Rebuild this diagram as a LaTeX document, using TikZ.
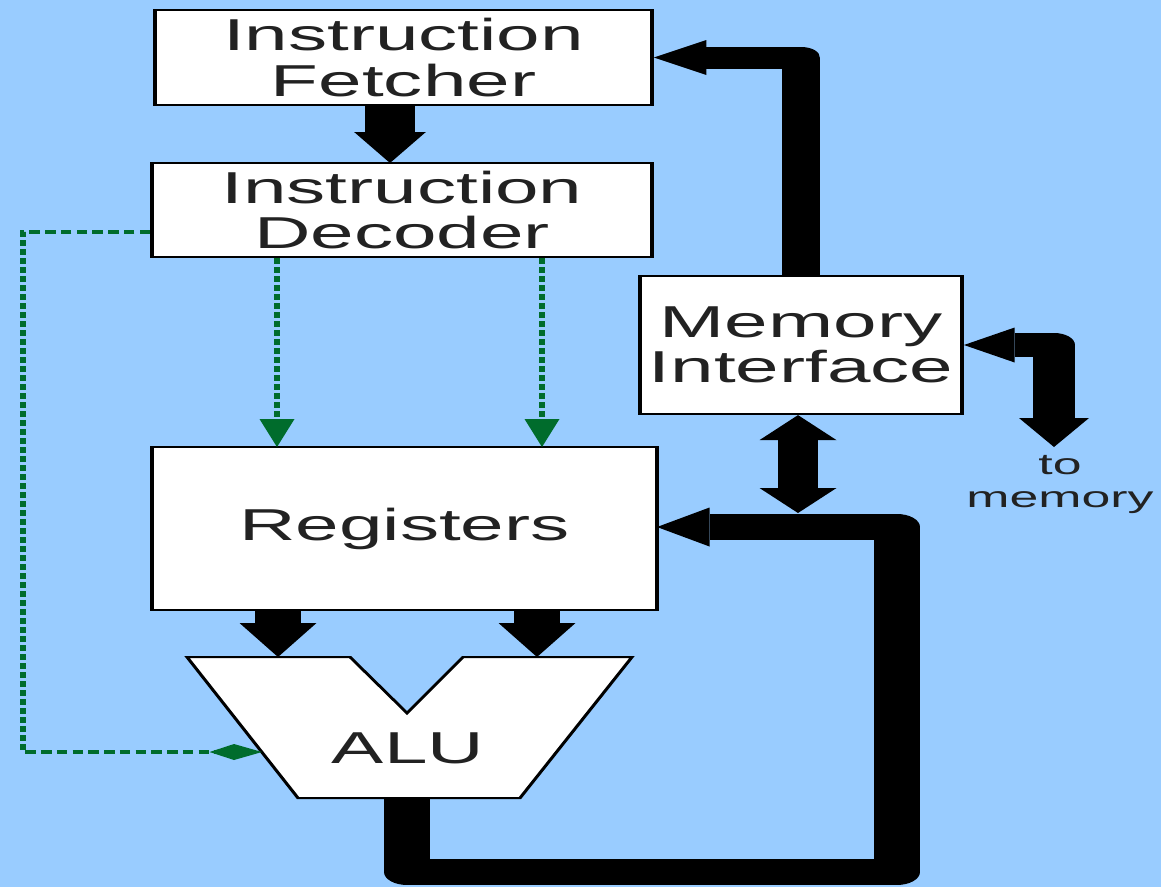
\documentclass[tikz,border=0pt]{standalone}
\usepackage{fontspec}
\newfontfamily\labelfont{Liberation Sans}
\usetikzlibrary{arrows.meta}
\definecolor{sky}{RGB}{153,204,255}
\definecolor{ink}{RGB}{34,34,34}
\definecolor{ctlgreen}{RGB}{0,108,44}
\tikzset{
  unit/.style={draw=black, line width=2.2pt, fill=white, inner sep=0pt,
    text=ink, align=center, font=\labelfont\fontsize{44.7}{45.5}\selectfont},
  boxw/.style={minimum width=#1pt/1.75},
  boxh/.style={minimum height=#1pt},
  bus/.style={draw=black, line width=#1pt, line join=round},
  ctl/.style={draw=ctlgreen, line width=3.6pt, dash pattern=on 6pt off 3pt},
  note/.style={text=ink, align=center, font=\labelfont\fontsize{29.6}{33}\selectfont},
}
\begin{document}
\begin{tikzpicture}[x=1pt, y=-1pt]
  \useasboundingbox (0,0) rectangle (1161,887);
  \fill[sky] (0,0) rectangle (1161,887);
  % everything is drawn on a horizontally widened canvas; positions are in final units
  \begin{scope}[transform canvas={xscale=1.75}, x=0.5714286pt]
    % functional units
    \node[unit, boxw=497, boxh=95]  (fetch) at (403.5,57.5) {Instruction\\Fetcher};
    \node[unit, boxw=500, boxh=94]  (dec)   at (402,210)   {Instruction\\Decoder};
    \node[unit, boxw=322, boxh=138] (mem)   at (801,345)   {Memory\\Interface};
    \node[unit, boxw=505, boxh=163] (regs)  at (404.5,528.5) {Registers};
    % ALU outline with its two input ports
    \draw[black, line width=2pt, fill=white, line join=miter]
      (187,657) -- (350,657) -- (407,713) -- (463,657) -- (632,657)
      -- (520,798) -- (298,798) -- cycle;
    \node[text=ink, font=\labelfont\fontsize{44.7}{45}\selectfont] (alu) at (408,748) {ALU};
    \coordinate (aluA)   at (278,657);
    \coordinate (aluB)   at (537,657);
    \coordinate (aluCtl) at (262,752);
    \coordinate (aluOut) at (407,798);
    % port where the fetched instruction enters the decoder
    \coordinate (decIn) at (390,163);
    % ports on the register file
    \coordinate (regA) at (277,447);
    \coordinate (regB) at (542,447);
    \coordinate (regIn) at (657,527);
    % bus corners and the external memory side
    \coordinate (busBL) at (407,872);
    \coordinate (busBR) at (897,872);
    \coordinate (busTR) at (897,527);
    \coordinate (busTap) at (798,513);
    \coordinate (toMem) at (1054,447);

    % data paths
    \draw[bus=29, -{Triangle[length=31pt, width=41pt, line width=0pt]}]
      (fetch.south -| decIn) -- (decIn);
    \draw[bus=22, -{Triangle[length=30pt, width=35pt, line width=0pt]}]
      (mem.north) |- (fetch.east);
    \draw[bus=24, {Triangle[length=29pt, width=35pt, line width=0pt]}-{Triangle[length=29pt, width=40pt, line width=0pt]}]
      (mem.east) -| (toMem);
    \draw[bus=23, {Triangle[length=25pt, width=44pt, line width=0pt]}-{Triangle[length=25pt, width=44pt, line width=0pt]}]
      (mem.south -| busTap) -- (busTap);
    \draw[bus=26, -{Triangle[length=34pt, width=44pt, line width=0pt]}]
      (regs.south -| aluA) -- (aluA);
    \draw[bus=26, -{Triangle[length=34pt, width=44pt, line width=0pt]}]
      (regs.south -| aluB) -- (aluB);
    \draw[bus=26, -{Triangle[length=30pt, width=39pt, line width=0pt]}]
      (aluOut) -- (busBL) -- (busBR) -- (busTR) -- (regIn);

    % control lines from the decoder
    \draw[ctl, -{Triangle[length=28pt, width=20pt, line width=0pt]}]
      (dec.south -| regA) -- (regA);
    \draw[ctl, -{Triangle[length=28pt, width=20pt, line width=0pt]}]
      (dec.south -| regB) -- (regB);
    \draw[ctl, -{Kite[length=30pt, width=16pt, inset=14pt, line width=0pt]}]
      ([yshift=-22pt]dec.west) -- (23,232) -- (23,752) -- (aluCtl);

    \node[note] (memnote) at (1060,484) {to\\memory};
  \end{scope}
\end{tikzpicture}
\end{document}
